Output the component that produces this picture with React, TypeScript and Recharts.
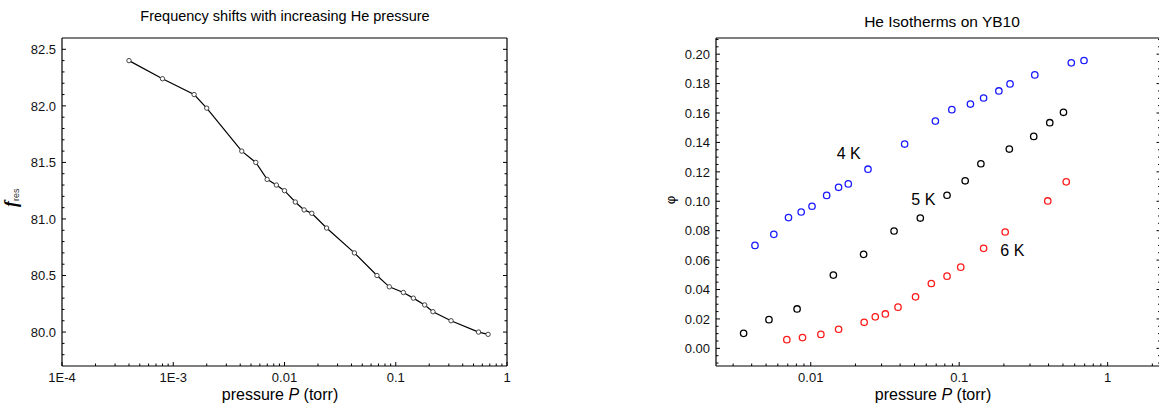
import React from 'react';
import { LineChart, Line, ScatterChart, Scatter, XAxis, YAxis, ReferenceDot, Customized } from 'recharts';

const FONT = '"Liberation Sans", Arial, sans-serif';

// left panel: resonance frequency vs He pressure
const freqPressure = [4.0e-4, 8.0e-4, 1.54e-3, 2.0e-3, 4.13e-3, 5.52e-3, 6.98e-3, 8.45e-3, 0.01, 0.0125, 0.015, 0.0176, 0.0239, 0.0425, 0.0678, 0.0875, 0.117, 0.144, 0.182, 0.216, 0.314, 0.555, 0.676];
const freqRes = [82.4, 82.24, 82.1, 81.98, 81.6, 81.5, 81.35, 81.3, 81.25, 81.15, 81.08, 81.05, 80.92, 80.7, 80.5, 80.4, 80.35, 80.3, 80.24, 80.18, 80.1, 80.0, 79.98];

// right panel: isotherms
const p4K = [0.00421, 0.00564, 0.00708, 0.00862, 0.0102, 0.0128, 0.0154, 0.0179, 0.0243, 0.0429, 0.0691, 0.0892, 0.119, 0.146, 0.185, 0.22, 0.323, 0.569, 0.693];
const phi4K = [0.07, 0.0775, 0.0889, 0.0927, 0.0966, 0.104, 0.1095, 0.1118, 0.1218, 0.1389, 0.1545, 0.1623, 0.1661, 0.1702, 0.175, 0.1798, 0.1859, 0.1941, 0.1957];
const p5K = [0.00353, 0.00523, 0.00809, 0.0142, 0.0227, 0.0364, 0.0547, 0.0828, 0.1097, 0.14, 0.2176, 0.3177, 0.4075, 0.504];
const phi5K = [0.0102, 0.0195, 0.0268, 0.0498, 0.0639, 0.0798, 0.0886, 0.1041, 0.1139, 0.1255, 0.1355, 0.1441, 0.1534, 0.1605];
const p6K = [0.0069, 0.0088, 0.0117, 0.0154, 0.0229, 0.0272, 0.0318, 0.0387, 0.0508, 0.0649, 0.0828, 0.1024, 0.146, 0.204, 0.395, 0.526];
const phi6K = [0.0059, 0.0073, 0.0095, 0.013, 0.0177, 0.0214, 0.0234, 0.028, 0.035, 0.0441, 0.0491, 0.0552, 0.068, 0.0791, 0.1002, 0.1132];

// axis ticks
const leftXMajor = [1e-4, 1e-3, 0.01, 0.1, 1];
const leftXLabels = ['1E-4', '1E-3', '0.01', '0.1', '1'];
const leftYMajor = [80.0, 80.5, 81.0, 81.5, 82.0, 82.5];
const leftYLabels = ['80.0', '80.5', '81.0', '81.5', '82.0', '82.5'];
const rightXMajor = [0.01, 0.1, 1];
const rightXLabels = ['0.01', '0.1', '1'];
const rightYMajor = [0, 0.02, 0.04, 0.06, 0.08, 0.1, 0.12, 0.14, 0.16, 0.18, 0.2];
const rightYLabels = ['0.00', '0.02', '0.04', '0.06', '0.08', '0.10', '0.12', '0.14', '0.16', '0.18', '0.20'];

const leftXDomain = [1e-4, 1];
const leftYDomain = [79.7, 82.6];
const rightXDomain = [0.0023, 2.27];
const rightYDomain = [-0.012, 0.211];

const freqData = freqPressure.map((p, i) => ({ p, f: freqRes[i] }));
const toPts = (ps: number[], vs: number[]) => ps.map((p, i) => ({ p, phi: vs[i] }));
const data4K = toPts(p4K, phi4K);
const data5K = toPts(p5K, phi5K);
const data6K = toPts(p6K, phi6K);

const logMinors = (lo: number, hi: number) => {
  const out: number[] = [];
  for (let e = Math.floor(Math.log10(lo)); e <= Math.ceil(Math.log10(hi)); e++) {
    for (let m = 2; m <= 9; m++) {
      const v = m * Math.pow(10, e);
      if (v > lo && v < hi) out.push(v);
    }
  }
  return out;
};

const linMinors = (lo: number, hi: number, step: number, majors: number[]) => {
  const out: number[] = [];
  for (let i = Math.ceil(lo / step - 1e-6); i <= Math.floor(hi / step + 1e-6); i++) {
    const v = i * step;
    if (v <= lo + 1e-9 || v >= hi - 1e-9) continue;
    if (majors.some((m) => Math.abs(m - v) < step / 100)) continue;
    out.push(v);
  }
  return out;
};

const majorIndex = (majors: number[], v: number) =>
  majors.findIndex((m) => (m === 0 ? Math.abs(v) < 1e-9 : Math.abs(v / m - 1) < 1e-6));

type Side = 'bottom' | 'top' | 'left' | 'right';

const makeTick = (side: Side, majors: number[], labels: string[] | null) => (props: any) => {
  const { x, y, payload } = props;
  const idx = majorIndex(majors, payload.value);
  const len = idx >= 0 ? 4 : 2.5;
  let line;
  if (side === 'bottom') line = <line x1={x} x2={x} y1={y} y2={y - len} stroke="#000" strokeWidth={1} />;
  else if (side === 'top') line = <line x1={x} x2={x} y1={y} y2={y + len} stroke="#000" strokeWidth={1} />;
  else if (side === 'left') line = <line x1={x} x2={x + len} y1={y} y2={y} stroke="#000" strokeWidth={1} />;
  else line = <line x1={x} x2={x - len} y1={y} y2={y} stroke="#000" strokeWidth={1} />;
  let label = null;
  if (labels && idx >= 0) {
    if (side === 'bottom') {
      label = (
        <text x={x} y={y + 16} textAnchor="middle" fontSize={13} fill="#111" fontFamily={FONT}>
          {labels[idx]}
        </text>
      );
    } else if (side === 'left') {
      label = (
        <text x={x - 6} y={y + 4.7} textAnchor="end" fontSize={13} fill="#111" fontFamily={FONT}>
          {labels[idx]}
        </text>
      );
    }
  }
  return (
    <g>
      {line}
      {label}
    </g>
  );
};

const axisLine = { stroke: '#000', strokeWidth: 1.2 };

const leftXTicks = [...leftXMajor, ...logMinors(leftXDomain[0], leftXDomain[1])];
const leftYTicks = [...leftYMajor, ...linMinors(leftYDomain[0], leftYDomain[1], 0.1, leftYMajor)];
const rightXTicks = [...rightXMajor, ...logMinors(rightXDomain[0], rightXDomain[1])];
const rightYTicks = [...rightYMajor, ...linMinors(rightYDomain[0], rightYDomain[1], 0.005, rightYMajor)];

const LeftTexts = () => (
  <g fontFamily={FONT}>
    <text x={285} y={21} textAnchor="middle" fontSize={14.5} fill="#000">
      Frequency shifts with increasing He pressure
    </text>
    <text x={280} y={400} textAnchor="middle" fontSize={16} fill="#000">
      pressure <tspan fontStyle="italic">P</tspan> (torr)
    </text>
    <text transform="translate(17, 207) rotate(-90)" fill="#000">
      <tspan fontFamily='"Liberation Serif", serif' fontWeight="bold" fontStyle="italic" fontSize={18}>f</tspan>
      <tspan fontSize={9} dy={1.5} fill="#333">res</tspan>
    </text>
  </g>
);

const RightTexts = () => (
  <g fontFamily={FONT}>
    <text x={342} y={26.5} textAnchor="middle" fontSize={15.5} fill="#000">
      He Isotherms on YB10
    </text>
    <text x={333} y={400} textAnchor="middle" fontSize={16} fill="#000">
      pressure <tspan fontStyle="italic">P</tspan> (torr)
    </text>
    <text transform="translate(75, 200) rotate(-90)" textAnchor="middle" fontSize={13} fill="#000">
      φ
    </text>
  </g>
);

const ring = (color: string) => (props: any) => (
  <circle cx={props.cx} cy={props.cy} r={3.2} fill="none" stroke={color} strokeWidth={1.3} />
);

const tempLabels = [
  { text: '4 K', p: 0.018, phi: 0.1327 },
  { text: '5 K', p: 0.0573, phi: 0.101 },
  { text: '6 K', p: 0.228, phi: 0.0666 },
];

export default function App() {
  return (
    <div
      style={{
        position: 'absolute',
        left: 0,
        top: 0,
        width: 1159,
        height: 404,
        overflow: 'hidden',
        background: '#fff',
        fontFamily: FONT,
      }}
    >
      <div style={{ position: 'absolute', left: 0, top: 0 }}>
        <LineChart width={560} height={404} data={freqData} margin={{ top: 37, right: 52, bottom: 37, left: 61 }}>
          <XAxis
            dataKey="p"
            type="number"
            scale="log"
            domain={leftXDomain}
            allowDataOverflow
            ticks={leftXTicks}
            interval={0}
            height={1}
            tickSize={0}
            tickMargin={0}
            axisLine={axisLine}
            tickLine={false}
            tick={makeTick('bottom', leftXMajor, leftXLabels)}
          />
          <XAxis
            xAxisId="top"
            orientation="top"
            type="number"
            scale="log"
            domain={leftXDomain}
            allowDataOverflow
            ticks={leftXTicks}
            interval={0}
            height={1}
            tickSize={0}
            tickMargin={0}
            axisLine={axisLine}
            tickLine={false}
            tick={makeTick('top', leftXMajor, null)}
          />
          <YAxis
            type="number"
            domain={leftYDomain}
            allowDataOverflow
            ticks={leftYTicks}
            interval={0}
            width={1}
            tickSize={0}
            tickMargin={0}
            axisLine={axisLine}
            tickLine={false}
            tick={makeTick('left', leftYMajor, leftYLabels)}
          />
          <YAxis
            yAxisId="right"
            orientation="right"
            type="number"
            domain={leftYDomain}
            allowDataOverflow
            ticks={leftYTicks}
            interval={0}
            width={1}
            tickSize={0}
            tickMargin={0}
            axisLine={axisLine}
            tickLine={false}
            tick={makeTick('right', leftYMajor, null)}
          />
          <Line
            dataKey="f"
            stroke="#000"
            strokeWidth={1.2}
            dot={{ r: 2.2, stroke: '#444', strokeWidth: 1, fill: '#fff' }}
            activeDot={false}
            isAnimationActive={false}
          />
          <Customized component={LeftTexts} />
        </LineChart>
      </div>
      <div style={{ position: 'absolute', left: 600, top: 0 }}>
        <ScatterChart width={570} height={404} margin={{ top: 37, right: 8.5, bottom: 37, left: 115 }}>
          <XAxis
            dataKey="p"
            type="number"
            scale="log"
            domain={rightXDomain}
            allowDataOverflow
            ticks={rightXTicks}
            interval={0}
            height={1}
            tickSize={0}
            tickMargin={0}
            axisLine={axisLine}
            tickLine={false}
            tick={makeTick('bottom', rightXMajor, rightXLabels)}
          />
          <XAxis
            xAxisId="top"
            orientation="top"
            type="number"
            scale="log"
            domain={rightXDomain}
            allowDataOverflow
            ticks={rightXTicks}
            interval={0}
            height={1}
            tickSize={0}
            tickMargin={0}
            axisLine={axisLine}
            tickLine={false}
            tick={makeTick('top', rightXMajor, null)}
          />
          <YAxis
            dataKey="phi"
            type="number"
            domain={rightYDomain}
            allowDataOverflow
            ticks={rightYTicks}
            interval={0}
            width={1}
            tickSize={0}
            tickMargin={0}
            axisLine={axisLine}
            tickLine={false}
            tick={makeTick('left', rightYMajor, rightYLabels)}
          />
          <YAxis
            yAxisId="right"
            orientation="right"
            type="number"
            domain={rightYDomain}
            allowDataOverflow
            ticks={rightYTicks}
            interval={0}
            width={1}
            tickSize={0}
            tickMargin={0}
            axisLine={axisLine}
            tickLine={false}
            tick={makeTick('right', rightYMajor, null)}
          />
          <Scatter data={data4K} shape={ring('#1a1aff')} isAnimationActive={false} />
          <Scatter data={data5K} shape={ring('#000')} isAnimationActive={false} />
          <Scatter data={data6K} shape={ring('#ff1a1a')} isAnimationActive={false} />
          {tempLabels.map((t) => (
            <ReferenceDot
              key={t.text}
              x={t.p}
              y={t.phi}
              r={0}
              fill="none"
              stroke="none"
              label={{ value: t.text, position: 'center', fontSize: 16, fill: '#000', fontFamily: FONT }}
            />
          ))}
          <Customized component={RightTexts} />
        </ScatterChart>
      </div>
    </div>
  );
}
